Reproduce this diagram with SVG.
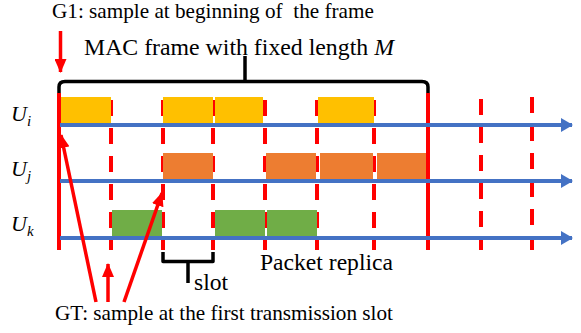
<svg xmlns="http://www.w3.org/2000/svg" width="581" height="333" viewBox="0 0 581 333">
  <style>
    text { font-family: 'Liberation Serif', 'DejaVu Serif', serif; fill: #000; }
    .lbl { font-style: italic; }
    .axis { stroke: #4472C4; stroke-width: 4; fill: none; }
    .bound { stroke: #FF0000; stroke-width: 4; fill: none; }
    .slotline { stroke: #FF0000; stroke-width: 4; stroke-dasharray: 16 12; fill: none; }
    .brace { stroke: #000; stroke-width: 3.5; fill: none; stroke-linejoin: round; }
    .ptr { stroke: #FF0000; stroke-width: 3.5; fill: none; }
    .yi { fill: #FFC000; }
    .oj { fill: #ED7D31; }
    .gk { fill: #70AD47; }
  </style>
  <defs>
    <marker id="blueHead" markerUnits="userSpaceOnUse" markerWidth="12" markerHeight="14" refX="11" refY="7" orient="auto">
      <path d="M0,0 L12,7 L0,14 Z" fill="#4472C4"/>
    </marker>
    <marker id="redHead" markerUnits="userSpaceOnUse" markerWidth="14" markerHeight="12" refX="13" refY="6" orient="auto">
      <path d="M0,0 L14,6 L0,12 Z" fill="#FF0000"/>
    </marker>
  </defs>
  <rect width="581" height="333" fill="#fff"/>

  <!-- slot boundaries -->
  <g id="slot-grid">
    <line class="bound" x1="59" y1="93" x2="59" y2="250"/>
    <line class="bound" x1="428" y1="93" x2="428" y2="250"/>
    <line class="slotline" x1="111" y1="100" x2="111" y2="250"/>
    <line class="slotline" x1="163" y1="100" x2="163" y2="250"/>
    <line class="slotline" x1="213" y1="100" x2="213" y2="250"/>
    <line class="slotline" x1="265" y1="100" x2="265" y2="250"/>
    <line class="slotline" x1="317" y1="100" x2="317" y2="250"/>
    <line class="slotline" x1="374" y1="100" x2="374" y2="250"/>
    <line class="slotline" x1="481" y1="99" x2="481" y2="250"/>
    <line class="slotline" x1="532" y1="97" x2="532" y2="250"/>
  </g>

  <!-- user Ui -->
  <g id="user-i">
    <rect class="yi" x="61" y="97" width="50" height="26"/>
    <rect class="yi" x="163" y="97" width="50" height="26"/>
    <rect class="yi" x="215" y="97" width="48" height="26"/>
    <rect class="yi" x="318" y="97" width="56" height="26"/>
    <line class="axis" x1="60" y1="125" x2="572" y2="125" marker-end="url(#blueHead)"/>
    <text class="lbl" x="11" y="121" font-size="22">U<tspan font-size="15" dy="5">i</tspan></text>
  </g>

  <!-- user Uj -->
  <g id="user-j">
    <rect class="oj" x="163" y="153" width="50" height="26"/>
    <rect class="oj" x="266" y="153" width="50" height="26"/>
    <rect class="oj" x="320" y="153" width="53" height="26"/>
    <rect class="oj" x="377" y="153" width="49" height="26"/>
    <line class="axis" x1="60" y1="181" x2="572" y2="181" marker-end="url(#blueHead)"/>
    <text class="lbl" x="11" y="176" font-size="22">U<tspan font-size="15" dy="5">j</tspan></text>
  </g>

  <!-- user Uk -->
  <g id="user-k">
    <rect class="gk" x="112" y="210" width="50" height="27"/>
    <rect class="gk" x="215" y="210" width="50" height="27"/>
    <rect class="gk" x="267" y="210" width="50" height="27"/>
    <line class="axis" x1="60" y1="238" x2="572" y2="238" marker-end="url(#blueHead)"/>
    <text class="lbl" x="11" y="231" font-size="22">U<tspan font-size="15" dy="5">k</tspan></text>
  </g>

  <!-- frame brace and label -->
  <g id="frame">
    <path class="brace" d="M59,93 V87 Q59,81.5 65,81.5 H422 Q428,81.5 428,87 V93"/>
    <path class="brace" d="M245,81.5 V56"/>
    <text x="84" y="55" font-size="23.8">MAC frame with fixed length <tspan font-style="italic">M</tspan></text>
  </g>

  <!-- slot brace and label -->
  <g id="slot">
    <path class="brace" d="M163,252 V261.5 H213 V252"/>
    <path class="brace" d="M188,261.5 V283"/>
    <text x="194" y="290" font-size="23.6">slot</text>
  </g>

  <g id="replica-label">
    <text x="260" y="270" font-size="23.6">Packet replica</text>
  </g>

  <!-- G1 sampling -->
  <g id="g1">
    <text x="52" y="18" font-size="21.2" xml:space="preserve">G1: sample at beginning of  the frame</text>
  </g>

  <!-- GT sampling -->
  <g id="gt">
    <text x="55" y="320" font-size="21.2">GT: sample at the first transmission slot</text>
  </g>

  <!-- pointers -->
  <g id="connectors">
    <line class="ptr" x1="60.5" y1="31" x2="60.5" y2="72" marker-end="url(#redHead)"/>
    <line class="ptr" x1="96" y1="302" x2="61" y2="135" marker-end="url(#redHead)"/>
    <line class="ptr" x1="108" y1="302" x2="108" y2="264" marker-end="url(#redHead)"/>
    <line class="ptr" x1="124" y1="302" x2="162" y2="193" marker-end="url(#redHead)"/>
  </g>
</svg>
